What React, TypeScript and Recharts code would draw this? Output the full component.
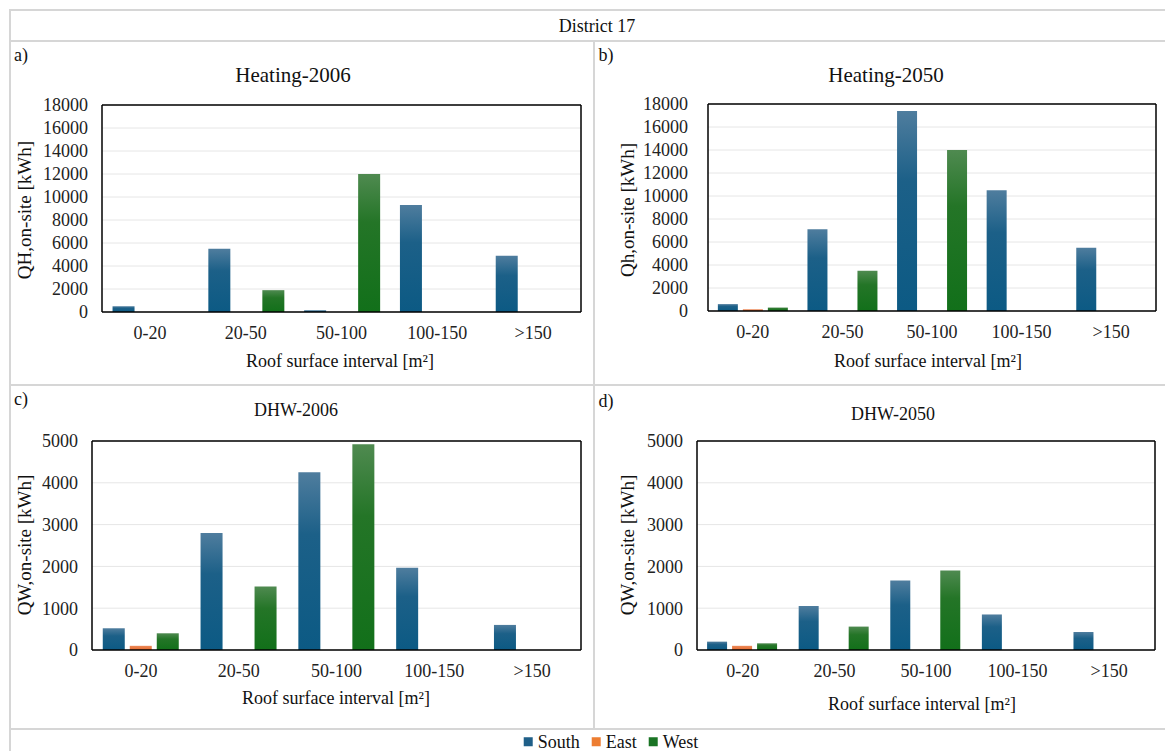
import { BarChart, Bar, XAxis, YAxis, CartesianGrid } from 'recharts'

const categories = ['0-20', '20-50', '50-100', '100-150', '>150']

const heating2006South = [500, 5500, 150, 9300, 4900]
const heating2006East = [0, 0, 0, 0, 0]
const heating2006West = [0, 1900, 12000, 0, 0]

const heating2050South = [600, 7100, 17400, 10500, 5500]
const heating2050East = [150, 0, 0, 0, 0]
const heating2050West = [300, 3500, 14000, 0, 0]

const dhw2006South = [520, 2800, 4250, 1970, 600]
const dhw2006East = [100, 0, 0, 0, 0]
const dhw2006West = [400, 1520, 4920, 0, 0]

const dhw2050South = [200, 1050, 1660, 850, 430]
const dhw2050East = [100, 0, 0, 0, 0]
const dhw2050West = [160, 560, 1900, 0, 0]

const heatingTicks = [0, 2000, 4000, 6000, 8000, 10000, 12000, 14000, 16000, 18000]
const dhwTicks = [0, 1000, 2000, 3000, 4000, 5000]

const FONT = '"Liberation Serif", "Times New Roman", serif'
const FRAME = '#d6d6d6'

function rows(south: number[], east: number[], west: number[]) {
  return categories.map((cat, i) => ({ cat, South: south[i], East: east[i], West: west[i] }))
}

interface PanelProps {
  id: string
  data: { cat: string; South: number; East: number; West: number }[]
  ticks: number[]
  left: number
  top: number
  width: number
  height: number
  yTickMargin: number
  xTickMargin: number
}

function Panel({ id, data, ticks, left, top, width, height, yTickMargin, xTickMargin }: PanelProps) {
  const max = ticks[ticks.length - 1]
  const tickStyle = { fontFamily: FONT, fontSize: 18, fill: '#222' }
  const boxLine = { stroke: '#000', strokeWidth: 1.5 }
  return (
    <div style={{ position: 'absolute', left, top }}>
      <BarChart
        width={width}
        height={height}
        data={data}
        margin={{ top: 9, right: 4, left: 0, bottom: 0 }}
        barCategoryGap="11%"
        barGap={5}
      >
        <defs>
          <linearGradient id={`${id}-south`} x1="0" y1="0" x2="0" y2="1">
            <stop offset="0%" stopColor="#4f7d9e" />
            <stop offset="35%" stopColor="#1c6088" />
            <stop offset="100%" stopColor="#0c5a84" />
          </linearGradient>
          <linearGradient id={`${id}-west`} x1="0" y1="0" x2="0" y2="1">
            <stop offset="0%" stopColor="#4f8a50" />
            <stop offset="35%" stopColor="#247527" />
            <stop offset="100%" stopColor="#12701a" />
          </linearGradient>
          <linearGradient id={`${id}-east`} x1="0" y1="0" x2="0" y2="1">
            <stop offset="0%" stopColor="#ec8a5a" />
            <stop offset="100%" stopColor="#e5692c" />
          </linearGradient>
        </defs>
        <CartesianGrid horizontal vertical={false} stroke="#e6e6e6" />
        <XAxis
          dataKey="cat"
          height={40}
          axisLine={boxLine}
          tickLine={false}
          tickSize={0}
          tickMargin={xTickMargin}
          tick={tickStyle}
          interval={0}
        />
        {/* top edge of the plot box */}
        <XAxis
          xAxisId="top"
          dataKey="cat"
          orientation="top"
          height={1}
          axisLine={boxLine}
          tickLine={false}
          tick={false}
        />
        <YAxis
          width={72}
          domain={[0, max]}
          ticks={ticks}
          interval={0}
          axisLine={boxLine}
          tickLine={false}
          tickSize={0}
          tickMargin={yTickMargin}
          tick={tickStyle}
        />
        {/* right edge of the plot box */}
        <YAxis
          yAxisId="right"
          orientation="right"
          width={1}
          domain={[0, max]}
          axisLine={boxLine}
          tickLine={false}
          tick={false}
        />
        <Bar dataKey="South" fill={`url(#${id}-south)`} isAnimationActive={false} />
        <Bar dataKey="East" fill={`url(#${id}-east)`} isAnimationActive={false} />
        <Bar dataKey="West" fill={`url(#${id}-west)`} isAnimationActive={false} />
      </BarChart>
    </div>
  )
}

function Txt({ x, y, size, children, rotate }: { x: number; y: number; size: number; children: React.ReactNode; rotate?: boolean }) {
  return (
    <div
      style={{
        position: 'absolute',
        left: x,
        top: y,
        transform: `translate(-50%, -50%)${rotate ? ' rotate(-90deg)' : ''}`,
        fontFamily: FONT,
        fontSize: size,
        color: '#111',
        whiteSpace: 'nowrap',
        lineHeight: 1,
      }}
    >
      {children}
    </div>
  )
}

function Line({ x, y, w, h }: { x: number; y: number; w: number; h: number }) {
  return <div style={{ position: 'absolute', left: x, top: y, width: w, height: h, background: FRAME }} />
}

function LegendItem({ color, label }: { color: string; label: string }) {
  return (
    <span style={{ display: 'inline-flex', alignItems: 'center', marginRight: 12 }}>
      <span style={{ width: 9, height: 9, background: color, display: 'inline-block', marginRight: 5 }} />
      {label}
    </span>
  )
}

export default function App() {
  return (
    <div style={{ position: 'absolute', left: 0, top: 0, width: 1165, height: 751, background: '#fff', overflow: 'hidden' }}>
      {/* frame */}
      <Line x={9} y={9} w={1156} h={2} />
      <Line x={9} y={9} w={2} h={742} />
      <Line x={9} y={40} w={1156} h={2} />
      <Line x={593} y={40} w={2} h={689} />
      <Line x={9} y={384} w={1156} h={2} />
      <Line x={9} y={728} w={1156} h={2} />

      <Txt x={597} y={26} size={18}>District 17</Txt>

      <Txt x={21} y={55} size={18}>a)</Txt>
      <Txt x={606} y={55} size={18}>b)</Txt>
      <Txt x={21} y={399} size={18}>c)</Txt>
      <Txt x={606} y={401} size={18}>d)</Txt>

      <Txt x={293} y={75} size={21}>Heating-2006</Txt>
      <Txt x={886} y={75} size={21}>Heating-2050</Txt>
      <Txt x={296} y={410} size={18}>DHW-2006</Txt>
      <Txt x={893} y={414} size={18}>DHW-2050</Txt>

      <Txt x={24} y={210} size={19} rotate>QH,on-site [kWh]</Txt>
      <Txt x={627} y={210} size={19} rotate>Qh,on-site [kWh]</Txt>
      <Txt x={24} y={545} size={19} rotate>QW,on-site [kWh]</Txt>
      <Txt x={627} y={545} size={19} rotate>QW,on-site [kWh]</Txt>

      <Panel id="a" data={rows(heating2006South, heating2006East, heating2006West)} ticks={heatingTicks}
        left={30} top={95} width={556} height={257} yTickMargin={14} xTickMargin={14} />
      <Panel id="b" data={rows(heating2050South, heating2050East, heating2050West)} ticks={heatingTicks}
        left={636} top={94} width={525} height={257} yTickMargin={20} xTickMargin={14} />
      <Panel id="c" data={rows(dhw2006South, dhw2006East, dhw2006West)} ticks={dhwTicks}
        left={20} top={431} width={566} height={259} yTickMargin={14} xTickMargin={14} />
      <Panel id="d" data={rows(dhw2050South, dhw2050East, dhw2050West)} ticks={dhwTicks}
        left={625} top={431} width={535} height={259} yTickMargin={14} xTickMargin={14} />

      <Txt x={340} y={361} size={18}>Roof surface interval [m²]</Txt>
      <Txt x={928} y={361} size={18}>Roof surface interval [m²]</Txt>
      <Txt x={336} y={698} size={18}>Roof surface interval [m²]</Txt>
      <Txt x={922} y={704} size={18}>Roof surface interval [m²]</Txt>

      <div style={{ position: 'absolute', left: 617, top: 741, transform: 'translate(-50%, -50%)', fontFamily: FONT, fontSize: 18, color: '#111', lineHeight: 1, whiteSpace: 'nowrap' }}>
        <LegendItem color="#1f5f88" label="South" />
        <LegendItem color="#ed7d31" label="East" />
        <LegendItem color="#1a7424" label="West" />
      </div>
    </div>
  )
}
